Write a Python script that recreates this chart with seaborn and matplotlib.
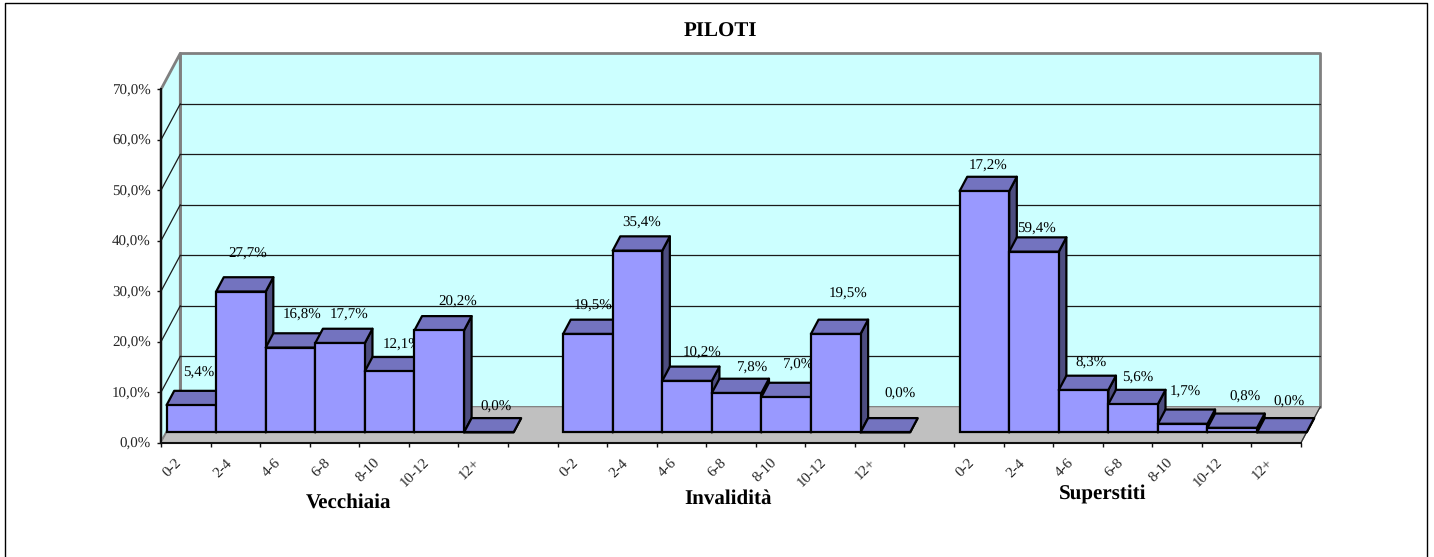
import numpy as np
import pandas as pd
import matplotlib
matplotlib.use('Agg')
import matplotlib.pyplot as plt
from matplotlib.lines import Line2D
from matplotlib.patches import Polygon
from matplotlib.transforms import Affine2D, IdentityTransform
import seaborn as sns

# values
classi = ['0-2', '2-4', '4-6', '6-8', '8-10', '10-12', '12+']
gruppi = ['Vecchiaia', 'Invalidità', 'Superstiti']
vecchiaia = [5.4, 27.9, 16.8, 17.7, 12.1, 20.2, 0.0]
invalidita = [19.5, 36.0, 10.2, 7.8, 7.0, 19.5, 0.0]
superstiti = [47.8, 35.8, 8.4, 5.6, 1.7, 0.9, 0.0]
etichette = ['5,4%', '27,7%', '16,8%', '17,7%', '12,1%', '20,2%', '0,0%',
             '19,5%', '35,4%', '10,2%', '7,8%', '7,0%', '19,5%', '0,0%',
             '17,2%', '59,4%', '8,3%', '5,6%', '1,7%', '0,8%', '0,0%']
y_ticks = [0, 10, 20, 30, 40, 50, 60, 70]

# label offsets from the bar top centre, in pixels
label_dx = [7, 7, 11.5, 9, 12, 19, 7, 5, 4.5, 15, 15, 11, 12, 15, 4, 3, 7.5, 5, 3, 13, 7]
label_dy = [32, 37.5, 32.5, 28, 26, 28, 25, 28, 28, 28, 25, 32, 40, 38, 25, 23, 27, 26, 32, 31, 30]

W, H = 1434, 557
WALL = (19.3, 36.0)   # depth of the back wall
INSET = (5.6, 10.3)   # bars stand a bit behind the front edge
DEPTH = (7.6, 14.3)   # depth of a single bar

sns.set_style('white')
plt.rcParams['font.family'] = ['Liberation Serif', 'DejaVu Serif']
plt.rcParams['text.color'] = 'black'
plt.rcParams['text.hinting'] = 'no_hinting'
plt.rcParams['text.hinting_factor'] = 1

fig = plt.figure(figsize=(W / 100, H / 100), dpi=100)
ax = fig.add_axes([161 / W, 1 - 442.7 / H, (1301 - 161) / W, (442.7 - 89.3) / H])
ax.set_facecolor('none')

# one slot for each bar and one empty slot between the groups
righe = []
for g, valori in enumerate([vecchiaia, invalidita, superstiti]):
    for i, v in enumerate(valori):
        righe.append({'slot': g * 8 + i, 'valore': v})
df = pd.DataFrame(righe)
n_slot = 23

sns.barplot(data=df, x='slot', y='valore', order=list(range(n_slot)), width=1,
            color='#9999FF', saturation=1, edgecolor='black', linewidth=1.6,
            errorbar=None, ax=ax)

ax.set_xlim(-0.5, n_slot - 0.5)
ax.set_ylim(0, 70)
ax.set_xlabel('')
ax.set_ylabel('')


def px(x, y, off=(0, 0)):
    p = ax.transData.transform((x, y))
    return (p[0] + off[0], p[1] + off[1])


def faccia(punti, colore, z, edge='black', lw=1.6):
    ax.add_patch(Polygon(punti, closed=True, facecolor=colore, edgecolor=edge, linewidth=lw,
                         transform=IdentityTransform(), zorder=z, clip_on=False,
                         joinstyle='round'))


x0, x1 = -0.5, n_slot - 0.5

# walls and floor
faccia([px(x0, 0, WALL), px(x1, 0, WALL), px(x1, 70, WALL), px(x0, 70, WALL)], '#CCFFFF', 0.1,
       edge='#808080', lw=2)
faccia([px(x0, 0), px(x0, 0, WALL), px(x0, 70, WALL), px(x0, 70)], '#CCFFFF', 0.2,
       edge='#808080', lw=2)
faccia([px(x0, 0), px(x1, 0), px(x1, 0, WALL), px(x0, 0, WALL)], '#C0C0C0', 0.3,
       edge='#808080', lw=0.8)

# gridlines on the walls
for t in y_ticks[1:-1]:
    for a, b in [(px(x0, t), px(x0, t, WALL)), (px(x0, t, WALL), px(x1, t, WALL))]:
        ax.add_line(Line2D([a[0], b[0]], [a[1], b[1]], color='#1a1a1a', lw=0.9,
                           transform=IdentityTransform(), zorder=0.5, clip_on=False))
a, b = px(x1, 0), px(x1, 0, WALL)
ax.add_line(Line2D([a[0], b[0]], [a[1], b[1]], color='#333333', lw=0.9,
                   transform=IdentityTransform(), zorder=0.5, clip_on=False))

# 3d faces, painted left to right so a bar hides what stands behind it
bar_shift = ax.transData + Affine2D().translate(*INSET)
for k, (bar, testo) in enumerate(zip(ax.patches[:len(df)], etichette)):
    z = 10 + k
    bx, bw, bh = bar.get_x(), bar.get_width(), bar.get_height()
    bar.set_transform(bar_shift)
    bar.set_clip_on(False)
    bar.set_zorder(z + 0.3)
    front = (INSET[0] + DEPTH[0], INSET[1] + DEPTH[1])
    faccia([px(bx + bw, 0, INSET), px(bx + bw, 0, front), px(bx + bw, bh, front), px(bx + bw, bh, INSET)],
           '#4D4D80', z)
    faccia([px(bx, bh, INSET), px(bx + bw, bh, INSET), px(bx + bw, bh, front), px(bx, bh, front)],
           '#7373BF', z + 0.1)
    ax.annotate(testo, xy=(bx + bw / 2, bh), xycoords='data',
                xytext=(INSET[0] + label_dx[k], INSET[1] + label_dy[k]),
                textcoords='offset pixels', ha='center', va='center', fontsize=10.5,
                zorder=z - 0.5, annotation_clip=False)

# axes
for lato in ['top', 'right']:
    ax.spines[lato].set_visible(False)
for lato in ['left', 'bottom']:
    ax.spines[lato].set_linewidth(1.5)
    ax.spines[lato].set_color('#111111')
    ax.spines[lato].set_zorder(1)

ax.set_yticks(y_ticks, labels=[f'{t},0%' for t in y_ticks], fontsize=10.5)
tick_labels = (classi + ['']) * 3
edges = np.arange(n_slot + 1) - 0.5
ax.set_xticks(edges, labels=tick_labels, fontsize=10.5, rotation=45, ha='right', va='center',
              rotation_mode='anchor')
ax.tick_params(axis='both', which='major', bottom=True, left=True, length=3.2, width=1.0, color='#111111')
ax.tick_params(axis='y', pad=4.2)
for lab in ax.get_xticklabels():
    lab.set_transform(lab.get_transform() + Affine2D().translate(19, -9))

# title and group names
fig.text(720 / W, 1 - 32 / H, 'PILOTI', fontweight='bold', fontsize=15, ha='center', va='center')
for nome, gx, gy in zip(gruppi, [349, 728, 1103], [503, 499, 494]):
    fig.text(gx / W, 1 - gy / H, nome, fontweight='bold', fontsize=15, ha='center', va='center')

# frame (no line at the bottom)
fig.add_artist(Line2D([5 / W, 5 / W, 1427 / W, 1427 / W], [0, 1 - 2.5 / H, 1 - 2.5 / H, 0],
                      color='black', lw=1.0, transform=fig.transFigure))

fig.savefig('out.png', dpi=100)
